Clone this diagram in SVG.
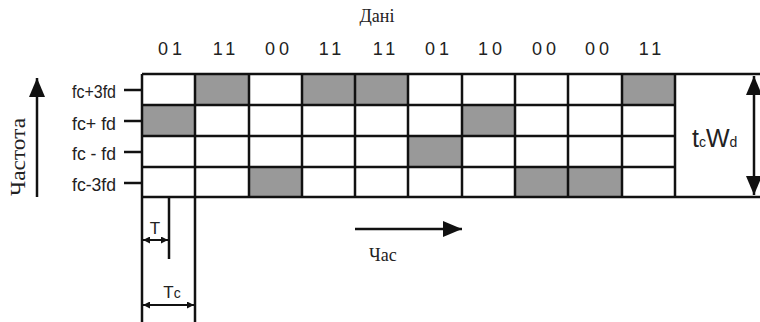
<svg xmlns="http://www.w3.org/2000/svg" width="760" height="322" viewBox="0 0 760 322">
  <defs>
    <style>
      .bg { fill: #ffffff; }
      .on { fill: #999999; }
      .ln { stroke: #111; stroke-width: 2.5; fill: none; }
      .thin { stroke: #111; stroke-width: 2; fill: none; }
      .sans { font-family: "Liberation Sans", Arial, sans-serif; fill: #222; }
      .serif { font-family: "Liberation Serif", "Times New Roman", serif; fill: #222; }
      .bits { font-size: 18px; letter-spacing: 4px; text-anchor: middle; }
      .freq { font-size: 18px; text-anchor: end; }
    </style>
    <marker id="ah" viewBox="0 0 10 10" refX="10" refY="5" markerWidth="7" markerHeight="7" markerUnits="userSpaceOnUse" orient="auto-start-reverse">
      <path d="M0,0 L10,5 L0,10 z" fill="#111"/>
    </marker>
    <marker id="big" viewBox="0 0 10 10" refX="10" refY="5" markerWidth="19" markerHeight="16" markerUnits="userSpaceOnUse" orient="auto-start-reverse" preserveAspectRatio="none">
      <path d="M0,0 L10,5 L0,10 z" fill="#111"/>
    </marker>
  </defs>

  <rect class="bg" width="760" height="322"/>

  <!-- data header -->
  <g id="data-header">
    <text class="serif" x="377" y="22" font-size="18" text-anchor="middle">Дані</text>
    <text class="sans bits" x="172" y="55">01</text>
    <text class="sans bits" x="226" y="55">11</text>
    <text class="sans bits" x="279" y="55">00</text>
    <text class="sans bits" x="332" y="55">11</text>
    <text class="sans bits" x="386" y="55">11</text>
    <text class="sans bits" x="439" y="55">01</text>
    <text class="sans bits" x="492" y="55">10</text>
    <text class="sans bits" x="546" y="55">00</text>
    <text class="sans bits" x="599" y="55">00</text>
    <text class="sans bits" x="652" y="55">11</text>
  </g>

  <!-- time/frequency grid: 10 symbol slots x 4 tones -->
  <g id="grid">
    <!-- shaded (active) slots -->
    <rect class="on" x="142" y="105" width="53" height="31"/>
    <rect class="on" x="195" y="74" width="54" height="31"/>
    <rect class="on" x="249" y="167" width="53" height="30"/>
    <rect class="on" x="302" y="74" width="53" height="31"/>
    <rect class="on" x="355" y="74" width="53" height="31"/>
    <rect class="on" x="408" y="136" width="54" height="31"/>
    <rect class="on" x="462" y="105" width="53" height="31"/>
    <rect class="on" x="515" y="167" width="53" height="30"/>
    <rect class="on" x="568" y="167" width="54" height="30"/>
    <rect class="on" x="622" y="74" width="53" height="31"/>
    <!-- row lines -->
    <path class="ln" d="M142,74 H760 M142,105 H675 M142,136 H675 M142,167 H675 M142,197 H760"/>
    <!-- column lines -->
    <path class="ln" d="M142,74 V322 M195,74 V322 M249,74 V197 M302,74 V197 M355,74 V197 M408,74 V197 M462,74 V197 M515,74 V197 M568,74 V197 M622,74 V197 M675,74 V197"/>
  </g>

  <!-- tone labels -->
  <g id="tones">
    <text class="sans freq" x="116" y="98" textLength="44" lengthAdjust="spacingAndGlyphs">fc+3fd</text>
    <text class="sans freq" x="116" y="130" textLength="44" lengthAdjust="spacingAndGlyphs">fc+ fd</text>
    <text class="sans freq" x="116" y="160" textLength="44" lengthAdjust="spacingAndGlyphs">fc - fd</text>
    <text class="sans freq" x="116" y="191" textLength="44" lengthAdjust="spacingAndGlyphs">fc-3fd</text>
    <path class="ln" d="M124,90 H142 M124,121 H142 M124,152 H142 M124,183 H142"/>
  </g>

  <!-- frequency axis -->
  <g id="freq-axis">
    <line class="ln" x1="37" y1="197" x2="37" y2="78" marker-end="url(#big)"/>
    <text class="serif" transform="translate(25,157) rotate(-90)" font-size="20" text-anchor="middle" textLength="78" lengthAdjust="spacingAndGlyphs">Частота</text>
  </g>

  <!-- bandwidth -->
  <g id="bandwidth">
    <line class="ln" x1="754" y1="76" x2="754" y2="195" marker-start="url(#big)" marker-end="url(#big)"/>
    <text class="sans" x="692" y="147" font-size="25">t<tspan font-size="14">c</tspan>W<tspan font-size="14">d</tspan></text>
  </g>

  <!-- time axis -->
  <g id="time-axis">
    <line class="ln" x1="355" y1="229" x2="462" y2="229" marker-end="url(#big)"/>
    <text class="serif" x="369" y="261" font-size="18">Час</text>
  </g>

  <!-- symbol durations -->
  <g id="durations">
    <line class="ln" x1="169" y1="197" x2="169" y2="259"/>
    <line class="thin" x1="143" y1="240" x2="168" y2="240" marker-start="url(#ah)" marker-end="url(#ah)"/>
    <text class="sans" x="155" y="234" font-size="17" text-anchor="middle">T</text>
    <line class="thin" x1="143" y1="305" x2="194" y2="305" marker-start="url(#ah)" marker-end="url(#ah)"/>
    <text class="sans" x="172" y="298" font-size="17" text-anchor="middle">T<tspan font-size="14">c</tspan></text>
  </g>
</svg>
